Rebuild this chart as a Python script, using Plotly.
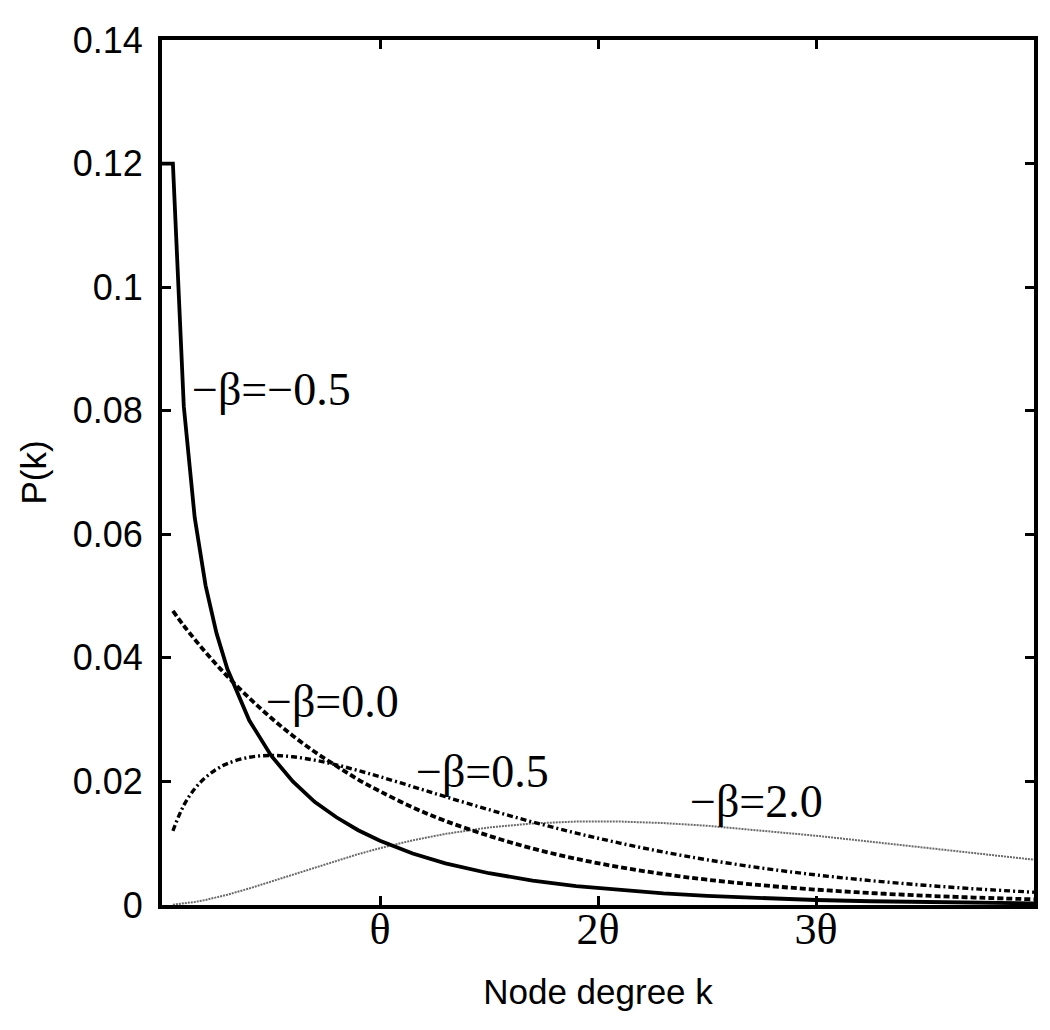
import plotly.graph_objects as go

# Node degree k (theta = 20)
k_values = [1, 2, 3, 4, 5, 6, 8, 10, 12, 14, 16, 18, 20, 23, 26, 30, 34, 38, 42, 46, 50, 55, 60, 65, 70, 75, 80]

p_beta_m05 = [0.1200, 0.0807, 0.0627, 0.0517, 0.0440, 0.0382, 0.0299, 0.0242, 0.0200, 0.0167, 0.0142, 0.0121,
              0.0104, 0.00833, 0.00674, 0.00514, 0.00395, 0.00306, 0.00239, 0.00187, 0.00147, 0.00109,
              0.00081, 0.00061, 0.00046, 0.00034, 0.00026]
p_beta_00 = [0.0476, 0.0452, 0.0430, 0.0409, 0.0389, 0.0370, 0.0335, 0.0303, 0.0274, 0.0248, 0.0225, 0.0203,
             0.0184, 0.0158, 0.0136, 0.0112, 0.00914, 0.00748, 0.00612, 0.00501, 0.00410, 0.00320,
             0.00249, 0.00194, 0.00151, 0.00118, 0.00092]
p_beta_05 = [0.0120, 0.01614, 0.01881, 0.02066, 0.02197, 0.02289, 0.02392, 0.02420, 0.02399, 0.02344, 0.02268,
             0.02176, 0.02076, 0.01916, 0.01753, 0.01542, 0.01344, 0.01164, 0.01002, 0.00858, 0.00732,
             0.00598, 0.00487, 0.00395, 0.00319, 0.00257, 0.00207]
p_beta_20 = [0.0000595, 0.000226, 0.000484, 0.000819, 0.001217, 0.001667, 0.002681, 0.003791, 0.004939,
             0.006083, 0.007189, 0.008234, 0.009197, 0.01047, 0.01151, 0.01255, 0.01320, 0.01350, 0.01351,
             0.01326, 0.01283, 0.01208, 0.01121, 0.01025, 0.00925, 0.00826, 0.00733]

# solid curve begins with a flat segment at the left edge
k_solid = [0] + k_values
p_solid = [0.1200] + p_beta_m05

x_tick_vals = [20, 40, 60]
x_tick_text = ["θ", "2θ", "3θ"]
y_tick_vals = [0, 0.02, 0.04, 0.06, 0.08, 0.10, 0.12, 0.14]
y_tick_text = ["0", "0.02", "0.04", "0.06", "0.08", "0.1", "0.12", "0.14"]

labels = ["−β=−0.5", "−β=0.0", "−β=0.5", "−β=2.0"]
label_x = [2.55, 9.4, 23.15, 48.3]
label_y = [0.0834, 0.0330, 0.0216, 0.0167]

fig = go.Figure()
fig.add_trace(go.Scatter(x=k_values, y=p_beta_20, mode="lines",
                         line=dict(color="#6a6a6a", width=2, dash="2px,1px")))
fig.add_trace(go.Scatter(x=k_values, y=p_beta_05, mode="lines", line_shape="spline",
                         line=dict(color="black", width=3.4, dash="6px,3px,2px,3px")))
fig.add_trace(go.Scatter(x=k_values, y=p_beta_00, mode="lines", line_shape="spline",
                         line=dict(color="black", width=3.8, dash="6px,3px")))
fig.add_trace(go.Scatter(x=k_solid, y=p_solid, mode="lines",
                         line=dict(color="black", width=3.8)))

for t, xx, yy in zip(labels, label_x, label_y):
    fig.add_annotation(x=xx, y=yy, text=t, showarrow=False, xanchor="left", yanchor="middle",
                       font=dict(family="Liberation Serif, Times New Roman, serif", size=46, color="black"))

fig.update_layout(
    width=1042, height=1022,
    margin=dict(l=154, r=16, t=25, b=125),
    plot_bgcolor="white", paper_bgcolor="white",
    showlegend=False,
    font=dict(family="Liberation Sans, Arial, sans-serif", color="black"),
)
fig.update_xaxes(
    range=[0, 80], tickvals=x_tick_vals, ticktext=x_tick_text,
    tickfont=dict(family="Liberation Serif, Times New Roman, serif", size=44),
    ticks="inside", ticklen=9, tickwidth=3, tickcolor="black",
    showline=True, linewidth=4, linecolor="black", mirror="ticks",
    showgrid=False, zeroline=False, ticklabelstandoff=-18,
    title=dict(text="Node degree k", font=dict(size=35), standoff=28),
)
fig.update_yaxes(
    range=[0, 0.14], tickvals=y_tick_vals, ticktext=y_tick_text,
    tickfont=dict(size=36),
    ticks="inside", ticklen=9, tickwidth=3, tickcolor="black",
    showline=True, linewidth=4, linecolor="black", mirror="ticks",
    showgrid=False, zeroline=False, ticklabelstandoff=8,
    title=dict(text="P(k)", font=dict(size=35), standoff=16),
)

fig.write_html("out.html")
